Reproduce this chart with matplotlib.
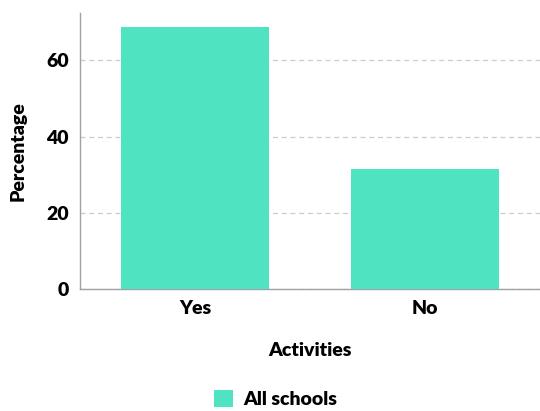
import matplotlib.pyplot as plt
import numpy as np

categories = ['Yes', 'No']
all_schools = [68.6, 31.4]
yticks = [0, 20, 40, 60]

plt.rcParams['font.family'] = ['Lato', 'DejaVu Sans']
plt.rcParams['font.weight'] = 'heavy'

fig = plt.figure(figsize=(5.4, 4.11), dpi=100)
ax = fig.add_axes([80/540, 122/411, 460/540, 276/411])

x = np.arange(len(categories))
ax.bar(x, all_schools, 0.64, color='#50e3c2', label='All schools', zorder=3)

ax.set_xlim(-0.5, 1.5)
ax.set_ylim(0, 72.4)
ax.set_yticks(yticks)
ax.set_xticks(x)
ax.set_xticklabels(categories)
ax.tick_params(length=0, labelsize=14, pad=8)
ax.yaxis.grid(True, linestyle=(0, (4, 3)), color='#cccccc', linewidth=0.9, zorder=0)
for s in ['top', 'right']:
    ax.spines[s].set_visible(False)
for s in ['left', 'bottom']:
    ax.spines[s].set_color('#a0a0a8')
    ax.spines[s].set_linewidth(1)

ax.set_ylabel('Percentage', fontsize=14, fontweight='heavy', labelpad=14)
ax.set_xlabel('Activities', fontsize=14, fontweight='heavy', labelpad=18)

fig.legend(loc='lower center', bbox_to_anchor=(0.51, -0.035), frameon=False,
           fontsize=14, handlelength=1.0, handleheight=1.0, handletextpad=0.5)

fig.savefig('out.png', dpi=100)
